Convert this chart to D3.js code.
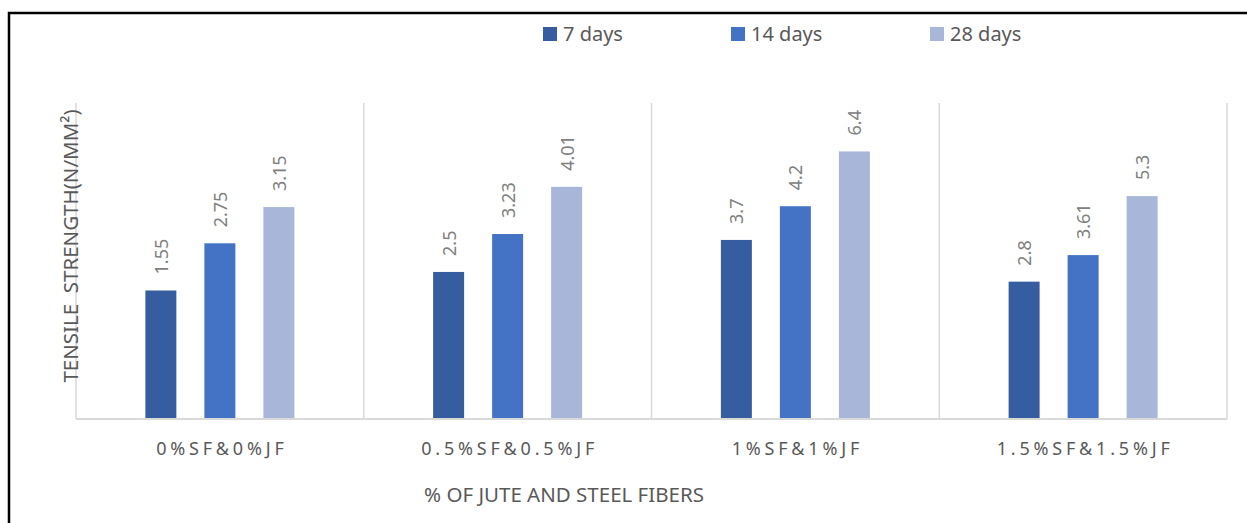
<!DOCTYPE html>
<html lang="en">
  <head>
    <meta charset="utf-8" />
    <title>Tensile strength</title>
    <script src="https://d3js.org/d3.v7.min.js"></script>
    <style>
      body {
        margin: 0;
        background: white;
      }
      text {
        font-family: "Noto Sans", sans-serif;
      }
      .sep {
        stroke: #d9d9d9;
        stroke-width: 1.5;
      }
    </style>
  </head>
  <body>
    <svg width="1247" height="523"></svg>
    <script type="text/javascript">
      const categories = ["0%SF&0%JF", "0.5%SF&0.5%JF", "1%SF&1%JF", "1.5%SF&1.5%JF"];
      const seriesNames = ["7 days", "14 days", "28 days"];
      const colours = ["#355d9f", "#4472c4", "#a8b6da"];

      // bar heights as drawn in the picture
      const days7 = [3.05, 3.49, 4.25, 3.26];
      const days14 = [4.17, 4.39, 5.05, 3.89];
      const days28 = [5.03, 5.51, 6.35, 5.29];

      // data labels as printed on the picture
      const labels7 = ["1.55", "2.5", "3.7", "2.8"];
      const labels14 = ["2.75", "3.23", "4.2", "3.61"];
      const labels28 = ["3.15", "4.01", "6.4", "5.3"];

      const yDomain = [0, 7.5];

      const values = [days7, days14, days28];
      const labelTexts = [labels7, labels14, labels28];

      const svg = d3.select("svg");
      const plot = { left: 76, right: 1227, top: 103, bottom: 419 };

      // outer frame
      svg
        .append("path")
        .attr("d", "M9,523V13H1247")
        .attr("fill", "none")
        .attr("stroke", "black")
        .attr("stroke-width", 2.5);

      const x = d3
        .scaleBand()
        .domain(categories)
        .range([plot.left, plot.right])
        .padding(0);

      const outer = (x.bandwidth() - 149) / 2;
      const xs = d3
        .scaleBand()
        .domain(seriesNames)
        .range([outer, x.bandwidth() - outer])
        .paddingInner(0.475)
        .paddingOuter(0);

      const y = d3.scaleLinear().domain(yDomain).range([plot.bottom, plot.top]);

      // category separators
      svg
        .append("g")
        .selectAll("line")
        .data(categories.concat(["end"]))
        .join("line")
        .attr("class", "sep")
        .attr("x1", (d, i) => plot.left + i * x.bandwidth())
        .attr("x2", (d, i) => plot.left + i * x.bandwidth())
        .attr("y1", plot.top)
        .attr("y2", plot.bottom);

      const bars = [];
      categories.forEach((c, ci) => {
        seriesNames.forEach((s, si) => {
          bars.push({ cat: c, series: s, si: si, value: values[si][ci], label: labelTexts[si][ci] });
        });
      });

      svg
        .append("g")
        .selectAll("rect")
        .data(bars)
        .join("rect")
        .attr("x", (d) => x(d.cat) + xs(d.series))
        .attr("y", (d) => y(d.value))
        .attr("width", xs.bandwidth())
        .attr("height", (d) => y(0) - y(d.value))
        .attr("fill", (d) => colours[d.si]);

      // baseline
      svg
        .append("line")
        .attr("x1", plot.left)
        .attr("x2", plot.right)
        .attr("y1", plot.bottom)
        .attr("y2", plot.bottom)
        .attr("stroke", "#d9d9d9")
        .attr("stroke-width", 2);

      // data labels
      svg
        .append("g")
        .selectAll("text")
        .data(bars)
        .join("text")
        .attr("transform", (d) => {
          const cx = x(d.cat) + xs(d.series) + xs.bandwidth() / 2;
          return `translate(${cx},${y(d.value) - 16}) rotate(-90)`;
        })
        .attr("dominant-baseline", "central")
        .attr("font-size", "18px")
        .attr("fill", "#808080")
        .text((d) => d.label);

      // category labels
      svg
        .append("g")
        .selectAll("text")
        .data(categories)
        .join("text")
        .attr("x", (d) => x(d) + x.bandwidth() / 2 + 2)
        .attr("y", 455)
        .attr("text-anchor", "middle")
        .attr("font-size", "18px")
        .attr("letter-spacing", "3.8px")
        .attr("fill", "#595959")
        .text((d) => d);

      // axis titles
      svg
        .append("text")
        .attr("x", 564)
        .attr("y", 502)
        .attr("text-anchor", "middle")
        .attr("font-size", "20.5px")
        .attr("fill", "#595959")
        .text("% OF JUTE AND STEEL FIBERS");

      svg
        .append("text")
        .attr("transform", "translate(70,246) rotate(-90)")
        .attr("text-anchor", "middle")
        .attr("dominant-baseline", "central")
        .attr("font-size", "20.5px")
        .attr("fill", "#595959")
        .style("white-space", "pre")
        .text("TENSILE  STRENGTH(N/MM²)");

      // legend
      const legendX = [543, 731, 930];
      const legend = svg
        .append("g")
        .selectAll("g")
        .data(seriesNames)
        .join("g")
        .attr("transform", (d, i) => `translate(${legendX[i]},27)`);
      legend
        .append("rect")
        .attr("width", 14)
        .attr("height", 14)
        .attr("fill", (d, i) => colours[i]);
      legend
        .append("text")
        .attr("x", 20)
        .attr("y", 14)
        .attr("font-size", "20px")
        .attr("fill", "#595959")
        .text((d) => d);
    </script>
  </body>
</html>
